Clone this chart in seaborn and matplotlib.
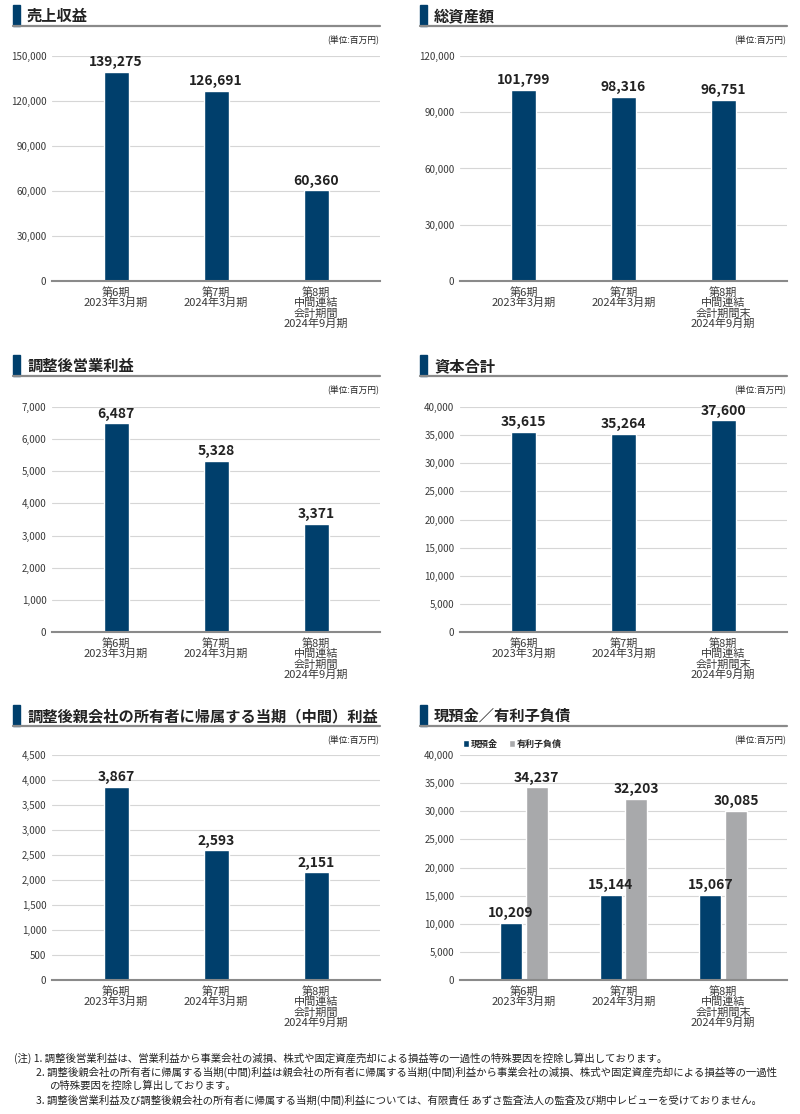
import matplotlib
matplotlib.use("Agg")
import matplotlib.pyplot as plt
import seaborn as sns
import pandas as pd
from matplotlib.patches import Rectangle
from matplotlib.lines import Line2D

# ==========================
# DATA
# ==========================

periods = ["第6期\n2023年3月期", "第7期\n2024年3月期", "第8期\n中間連結\n会計期間\n2024年9月期"]
periods_end = ["第6期\n2023年3月期", "第7期\n2024年3月期", "第8期\n中間連結\n会計期間末\n2024年9月期"]

revenue = [139275, 126691, 60360]
total_assets = [101799, 98316, 96751]
adj_op_profit = [6487, 5328, 3371]
equity = [35615, 35264, 37600]
adj_net_profit = [3867, 2593, 2151]
cash = [10209, 15144, 15067]
debt = [34237, 32203, 30085]
series_names = ["現預金", "有利子負債"]

titles = [
    "売上収益",
    "総資産額",
    "調整後営業利益",
    "資本合計",
    "調整後親会社の所有者に帰属する当期（中間）利益",
    "現預金／有利子負債",
]
unit_label = "(単位:百万円)"

notes = [
    "(注) 1. 調整後営業利益は、営業利益から事業会社の減損、株式や固定資産売却による損益等の一過性の特殊要因を控除し算出しております。",
    "2. 調整後親会社の所有者に帰属する当期(中間)利益は親会社の所有者に帰属する当期(中間)利益から事業会社の減損、株式や固定資産売却による損益等の一過性",
    "の特殊要因を控除し算出しております。",
    "3. 調整後営業利益及び調整後親会社の所有者に帰属する当期(中間)利益については、有限責任 あずさ監査法人の監査及び期中レビューを受けておりません。",
]

# ==========================
# STYLE
# ==========================

NAVY = "#003f6c"
GRAY = "#a8a9ab"
TEXT = "#222222"
TICK = "#3a3a3a"

sns.set_style("white")
plt.rcParams["font.family"] = ["Noto Sans CJK JP", "DejaVu Sans"]

W, H = 800, 1114
fig = plt.figure(figsize=(8, 11.14), dpi=100)


def fx(x):
    return x / W


def fy(y):
    return 1 - y / H


def make_axes(left, top, right, bottom):
    return fig.add_axes([fx(left), fy(bottom), (right - left) / W, (bottom - top) / H])


def header(x0, x1, y_line, text):
    # blue accent block + title + gray underline
    fig.patches.append(Rectangle((fx(x0), fy(y_line)), 7 / W, 21 / H,
                                 transform=fig.transFigure, color=NAVY))
    fig.lines.append(Line2D([fx(x0), fx(x1)], [fy(y_line), fy(y_line)],
                            transform=fig.transFigure, color="#8a8a8a", lw=1.6))
    fig.text(fx(x0 + 14), fy(y_line - 10), text, fontsize=11, fontweight="bold",
             color=TEXT, va="center", ha="left")
    fig.text(fx(x1 - 1), fy(y_line + 14), unit_label, fontsize=6.3,
             color=TEXT, va="center", ha="right")


def style_axes(ax, ymax, step):
    ax.set_xlim(-0.64, 2.64)
    ax.set_ylim(0, ymax)
    ticks = list(range(0, ymax + 1, step))
    ax.set_yticks(ticks)
    ax.set_yticklabels([f"{t:,}" for t in ticks])
    ax.grid(axis="y", color="#d6d6d6", lw=0.8)
    ax.set_axisbelow(True)
    for s in ["top", "right", "left"]:
        ax.spines[s].set_visible(False)
    ax.spines["bottom"].set_color("#8a8a8a")
    ax.spines["bottom"].set_linewidth(1.5)
    ax.spines["bottom"].set_zorder(5)
    ax.tick_params(axis="y", length=0, pad=4, labelsize=7, labelcolor=TICK)
    ax.tick_params(axis="x", length=0, pad=4, labelsize=8, labelcolor=TICK)
    for lab in ax.get_xticklabels():
        lab.set_linespacing(1.05)
    ax.set_xlabel("")
    ax.set_ylabel("")


def single_panel(ax, labels, values, ymax, step):
    df = pd.DataFrame({"period": labels, "value": values})
    sns.barplot(data=df, x="period", y="value", color=NAVY, width=0.25,
                saturation=1, ax=ax)
    ax.bar_label(ax.containers[0], labels=[f"{v:,}" for v in values],
                 padding=2, fontsize=10, fontweight="bold", color=TEXT)
    style_axes(ax, ymax, step)


# ==========================
# PANELS
# ==========================

LEFT = (52, 380)
RIGHT = (460, 787)
ROWS = [(56, 281, 26), (407, 632, 376), (755, 980, 726)]

ax1 = make_axes(LEFT[0], ROWS[0][0], LEFT[1], ROWS[0][1])
single_panel(ax1, periods, revenue, 150000, 30000)
header(13, 380, ROWS[0][2], titles[0])

ax2 = make_axes(RIGHT[0], ROWS[0][0], RIGHT[1], ROWS[0][1])
single_panel(ax2, periods_end, total_assets, 120000, 30000)
header(420, 787, ROWS[0][2], titles[1])

ax3 = make_axes(LEFT[0], ROWS[1][0], LEFT[1], ROWS[1][1])
single_panel(ax3, periods, adj_op_profit, 7000, 1000)
header(13, 380, ROWS[1][2], titles[2])

ax4 = make_axes(RIGHT[0], ROWS[1][0], RIGHT[1], ROWS[1][1])
single_panel(ax4, periods_end, equity, 40000, 5000)
header(420, 787, ROWS[1][2], titles[3])

ax5 = make_axes(LEFT[0], ROWS[2][0], LEFT[1], ROWS[2][1])
single_panel(ax5, periods, adj_net_profit, 4500, 500)
header(13, 380, ROWS[2][2], titles[4])

# grouped bars: cash vs interest-bearing debt
ax6 = make_axes(RIGHT[0], ROWS[2][0], RIGHT[1], ROWS[2][1])
long_df = pd.DataFrame({
    "period": periods_end * 2,
    "value": cash + debt,
    "series": [series_names[0]] * 3 + [series_names[1]] * 3,
})
sns.barplot(data=long_df, x="period", y="value", hue="series",
            palette=[NAVY, GRAY], width=0.52, gap=0.15, saturation=1, ax=ax6)
for cont, vals in zip(ax6.containers, [cash, debt]):
    ax6.bar_label(cont, labels=[f"{v:,}" for v in vals], padding=2,
                  fontsize=10, fontweight="bold", color=TEXT)
style_axes(ax6, 40000, 5000)
handles, labs = ax6.get_legend_handles_labels()
ax6.legend(handles, labs, loc="lower left", bbox_to_anchor=(-0.01, 1.0),
           ncol=2, frameon=False, handlelength=0.7, handleheight=0.7,
           handletextpad=0.2, columnspacing=1.2, borderaxespad=0.3,
           prop={"size": 6.5, "weight": "bold"})
header(420, 787, ROWS[2][2], titles[5])

# ==========================
# FOOTNOTES
# ==========================

note_x = [14, 36, 49, 36]
for i, (line, x) in enumerate(zip(notes, note_x)):
    fig.text(fx(x), fy(1058 + i * 14), line, fontsize=7.5, color=TEXT,
             va="center", ha="left")

fig.savefig("out.png", dpi=100)
plt.close(fig)
